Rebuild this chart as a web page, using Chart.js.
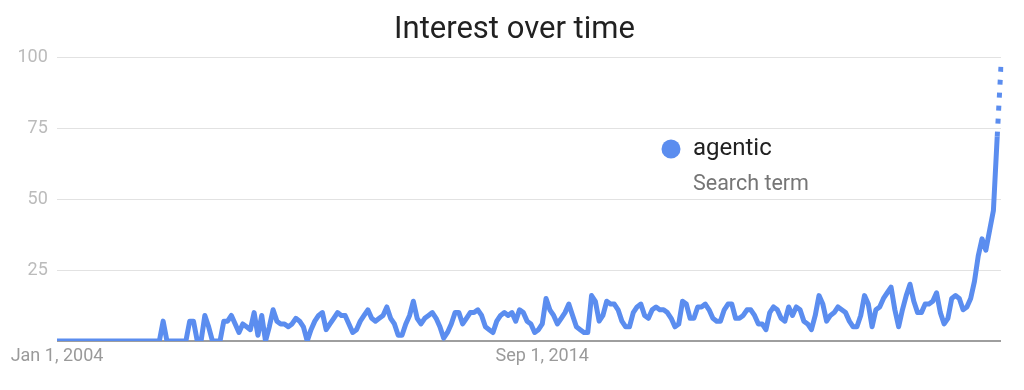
<!DOCTYPE html>
<html>
<head>
<meta charset="utf-8">
<title>Interest over time</title>
<script src="https://cdn.jsdelivr.net/npm/chart.js@4.4.1/dist/chart.umd.min.js"></script>
<style>
  html, body { margin: 0; padding: 0; background: #fff; }
  #wrap { width: 1024px; height: 390px; }
</style>
</head>
<body>
<div id="wrap"><canvas id="trend" width="1024" height="390"></canvas></div>
<script>
// ---- Data ----
const term = "agentic";
const termKind = "Search term";
const startYear = 2004;
const monthNames = ["Jan", "Feb", "Mar", "Apr", "May", "Jun", "Jul", "Aug", "Sep", "Oct", "Nov", "Dec"];

// x ticks shown under the axis (index into the monthly series)
const tickIndex = [0, 128];
const tickLabels = ["Jan 1, 2004", "Sep 1, 2014"];
const yTicks = [0, 25, 50, 75, 100];

// monthly interest, one row per year (last one is partial)
const interest = [
  0, 0, 0, 0, 0, 0, 0, 0, 0, 0, 0, 0,          // 2004
  0, 0, 0, 0, 0, 0, 0, 0, 0, 0, 0, 0,          // 2005
  0, 0, 0, 0, 7, 0, 0, 0, 0, 0, 0, 7,          // 2006
  7, 0, 0, 9, 5, 0, 0, 0, 7, 7, 9, 6,          // 2007
  3, 6, 5, 4, 10, 2, 9, 0, 5, 11, 7, 6,        // 2008
  6, 5, 6, 8, 7, 5, 0, 4, 7, 9, 10, 4,         // 2009
  6, 8, 10, 9, 9, 6, 3, 4, 7, 9, 11, 8,        // 2010
  7, 8, 9, 12, 8, 6, 2, 2, 6, 9, 14, 8,        // 2011
  6, 8, 9, 10, 8, 5, 1, 3, 6, 10, 10, 6,       // 2012
  8, 10, 10, 11, 9, 5, 4, 3, 7, 9, 10, 9,      // 2013
  10, 7, 11, 10, 7, 6, 3, 4, 6, 15, 11, 9,     // 2014
  6, 8, 10, 13, 9, 5, 4, 3, 3, 16, 14, 7,      // 2015
  9, 14, 13, 13, 11, 7, 5, 5, 10, 12, 13, 9,   // 2016
  8, 11, 12, 11, 11, 10, 8, 5, 6, 14, 13, 8,   // 2017
  8, 12, 12, 13, 11, 8, 7, 7, 11, 13, 13, 8,   // 2018
  8, 9, 11, 11, 9, 6, 6, 4, 10, 12, 11, 8,     // 2019
  7, 12, 9, 12, 11, 7, 6, 4, 9, 16, 13, 7,     // 2020
  9, 10, 12, 11, 10, 7, 5, 5, 9, 16, 13, 5,    // 2021
  11, 12, 15, 17, 19, 11, 5, 11, 16, 20, 14, 10, // 2022
  10, 13, 13, 14, 17, 10, 6, 8, 15, 16, 15, 11,  // 2023
  12, 15, 21, 30, 36, 32, 39, 46, 72, 97         // 2024
];

const months = interest.map((_, i) => `${monthNames[i % 12]} ${startYear + Math.floor(i / 12)}`);

const BLUE = "#5b8def";
const FONT = "Roboto, 'Noto Sans', sans-serif";

// ---- Inline legend (dot + term + "Search term") ----
const termLegend = {
  id: "termLegend",
  afterDraw(chart, args, opts) {
    const c = chart.ctx;
    const ds = chart.data.datasets[0];
    c.save();
    c.fillStyle = ds.borderColor;
    c.beginPath();
    c.arc(opts.x, opts.y, 9.5, 0, Math.PI * 2);
    c.fill();
    c.textAlign = "left";
    c.textBaseline = "middle";
    c.fillStyle = "#212121";
    c.font = `24px ${FONT}`;
    c.fillText(ds.label, opts.x + 22, opts.y);
    c.fillStyle = "#757575";
    c.font = `21.5px ${FONT}`;
    c.fillText(termKind, opts.x + 22, opts.y + 36);
    c.restore();
  }
};

// ---- Chart.js ----
const ctx = document.getElementById("trend").getContext("2d");
const last = interest.length - 1;

new Chart(ctx, {
  type: "line",
  data: {
    labels: months,
    datasets: [{
      label: term,
      data: interest,
      borderColor: BLUE,
      borderWidth: 5,
      pointRadius: 0,
      tension: 0,
      fill: false,
      borderJoinStyle: "round",
      segment: {
        // partial month is drawn dotted
        borderDash: s => (s.p1DataIndex === last ? [5, 8] : undefined)
      }
    }]
  },
  options: {
    responsive: false,
    animation: false,
    devicePixelRatio: 1,
    // left padding keeps the title centred like the original
    layout: { padding: { left: 28, right: 23, top: 0, bottom: 0 } },
    plugins: {
      legend: { display: false },
      tooltip: { enabled: false },
      title: {
        display: true,
        text: "Interest over time",
        color: "#212121",
        font: { family: FONT, size: 31, weight: "normal" },
        padding: { top: 12, bottom: 8 }
      },
      termLegend: { x: 671, y: 149 }
    },
    scales: {
      x: {
        type: "category",
        offset: false,
        grid: { display: false, drawTicks: false },
        border: { display: false },
        afterBuildTicks: s => { s.ticks = tickIndex.map(v => ({ value: v })); },
        afterFit: s => { s.height = 49; },
        ticks: {
          autoSkip: false,
          maxRotation: 0,
          minRotation: 0,
          padding: 5,
          color: "#9a9a9a",
          font: { family: FONT, size: 18 },
          callback: v => tickLabels[tickIndex.indexOf(v)]
        }
      },
      y: {
        min: 0,
        max: 100,
        afterBuildTicks: s => { s.ticks = yTicks.map(v => ({ value: v })); },
        afterFit: s => { s.width = 29; },
        border: { display: false },
        grid: {
          drawTicks: false,
          color: g => (g.tick && g.tick.value === 0 ? "#9e9e9e" : "#e2e2e2"),
          lineWidth: g => (g.tick && g.tick.value === 0 ? 2 : 1)
        },
        ticks: {
          // mirrored so the labels are not clipped to the narrow axis box;
          // the negative padding puts them back left of the plot
          mirror: true,
          crossAlign: "far",
          padding: -39.5,
          color: "#bbbbbb",
          font: { family: FONT, size: 18 },
          callback: v => (v === 0 ? "" : v)
        }
      }
    }
  },
  plugins: [termLegend]
});
</script>
</body>
</html>
